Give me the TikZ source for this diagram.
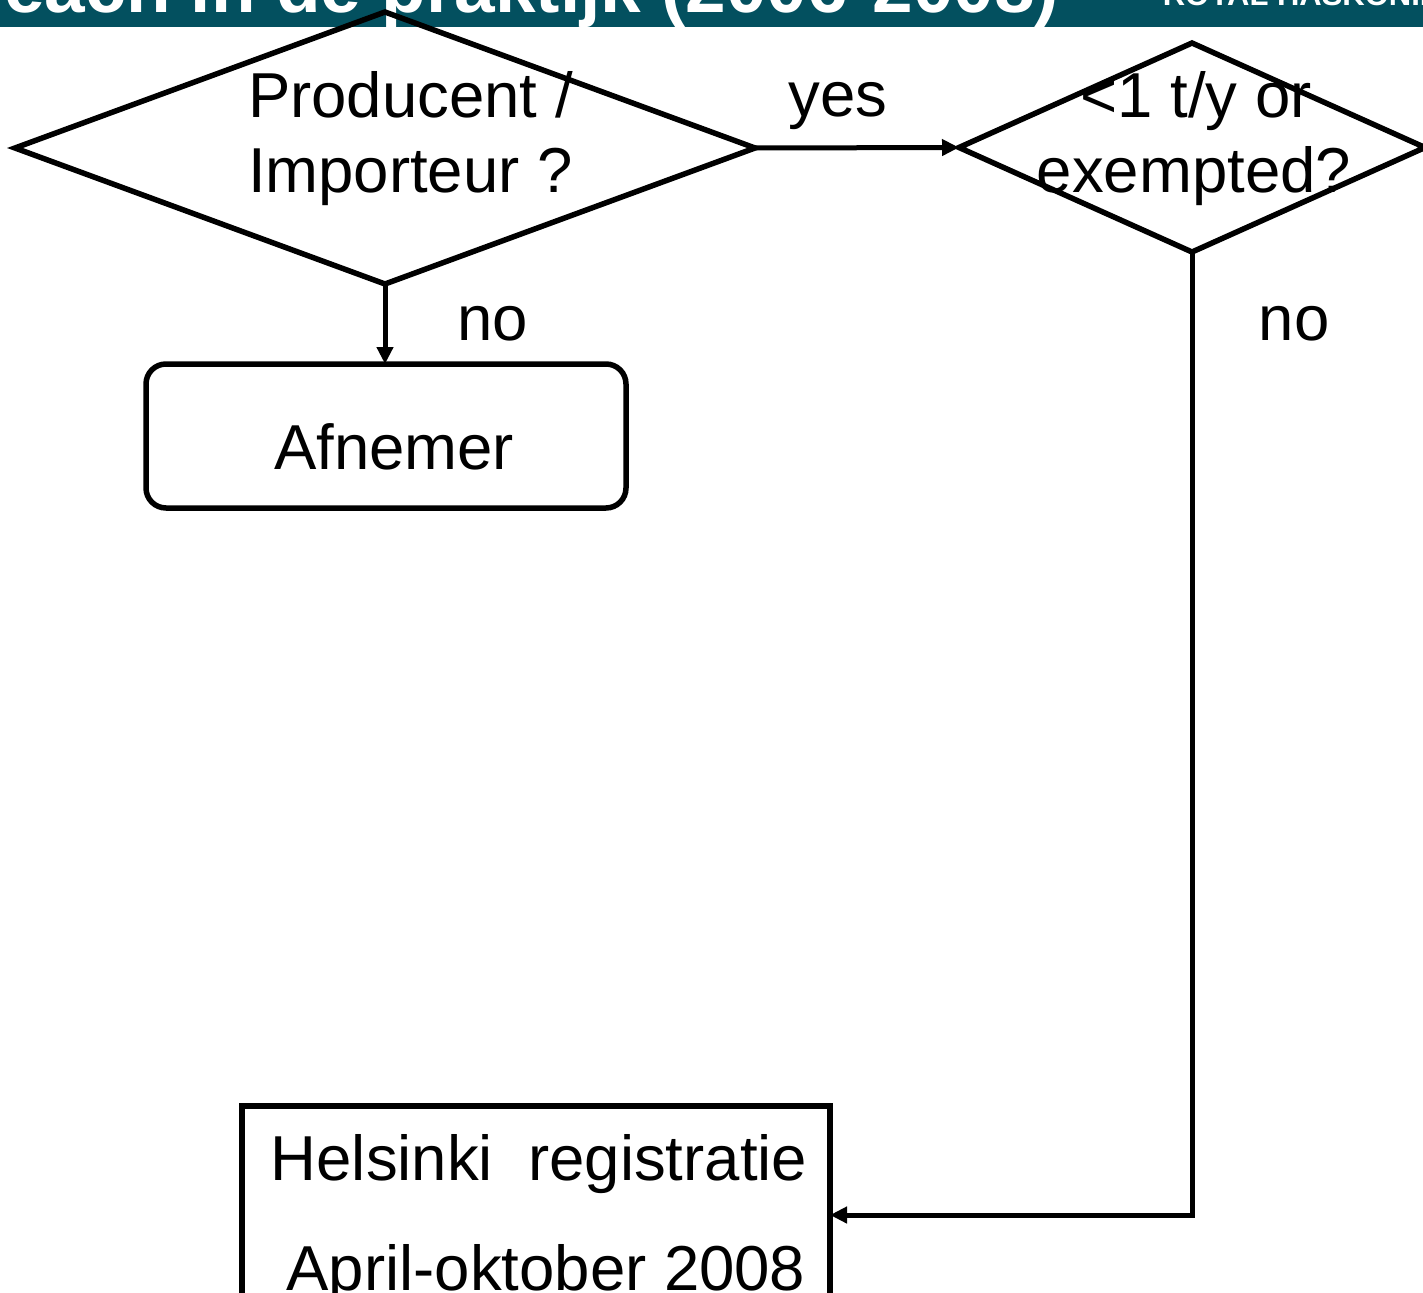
\documentclass[tikz,border=0pt]{standalone}
\usepackage{fontspec}
\setmainfont{Liberation Sans}
\usetikzlibrary{shapes.geometric,arrows.meta}
\definecolor{bannerteal}{HTML}{03505F}
\begin{document}
\begin{tikzpicture}[x=1pt,y=-1pt,
  line width=5.5pt,
  big/.style={font=\fontsize{63.5}{75}\selectfont, inner sep=0pt, outer sep=0pt},
  dia/.style={draw, diamond, inner sep=0pt, outer sep=0pt},
  boxnode/.style={draw, rectangle, inner sep=0pt, outer sep=0pt},
  arr/.style={line width=5pt, -{Triangle[length=17pt,width=16pt]}},
  ]
\useasboundingbox (0,0) rectangle (1423,1292);
\clip (0,0) rectangle (1423,1292);
% banner
\fill[bannerteal] (0,0) rectangle (1423,27);
\node[anchor=base east, inner sep=0pt, text=white, font=\bfseries\fontsize{73}{80}\selectfont] (title) at (1062,13) {each in de praktijk (2006-2008)};
\node[anchor=base west, inner sep=0pt, text=white, font=\bfseries\fontsize{31}{34}\selectfont] (logo) at (1160,6) {ROYAL HASKONING};
% shapes
\node[dia, minimum width=740pt, minimum height=272pt] (d1) at (385,148) {};
\node[dia, minimum width=466pt, minimum height=209pt] (d2) at (1192,147.5) {};
\node[boxnode, rounded corners=20pt, minimum width=480pt, minimum height=144pt] (afn) at (386,436) {};
\node[boxnode, minimum width=588pt, minimum height=218pt] (hel) at (536,1215) {};
% texts
\node[big, anchor=base west] (t1a) at (248,118) {Producent /};
\node[big, anchor=base west] (t1b) at (248,193) {Importeur ?};
\node[big, anchor=base] (t2a) at (1196,118) {<1 t/y or};
\node[big, anchor=base] (t2b) at (1194,193) {exempted?};
\node[big, anchor=base] (yes) at (838,117) {yes};
\node[big, anchor=base] (no1) at (493,340) {no};
\node[big, anchor=base] (no2) at (1294,340) {no};
\node[big, anchor=base] (afntxt) at (394,469) {Afnemer};
\node[big, anchor=base] (hela) at (539,1180) {Helsinki\ \ registratie};
\node[big, anchor=base] (helb) at (546,1290) {April-oktober 2008};
% connectors
\draw[arr] (d1.east) -- (d2.west);
\draw[arr] (d1.south) -- (afn.north -| d1.south);
\draw[arr] (d2.south) |- (hel.east);
\end{tikzpicture}
\end{document}
